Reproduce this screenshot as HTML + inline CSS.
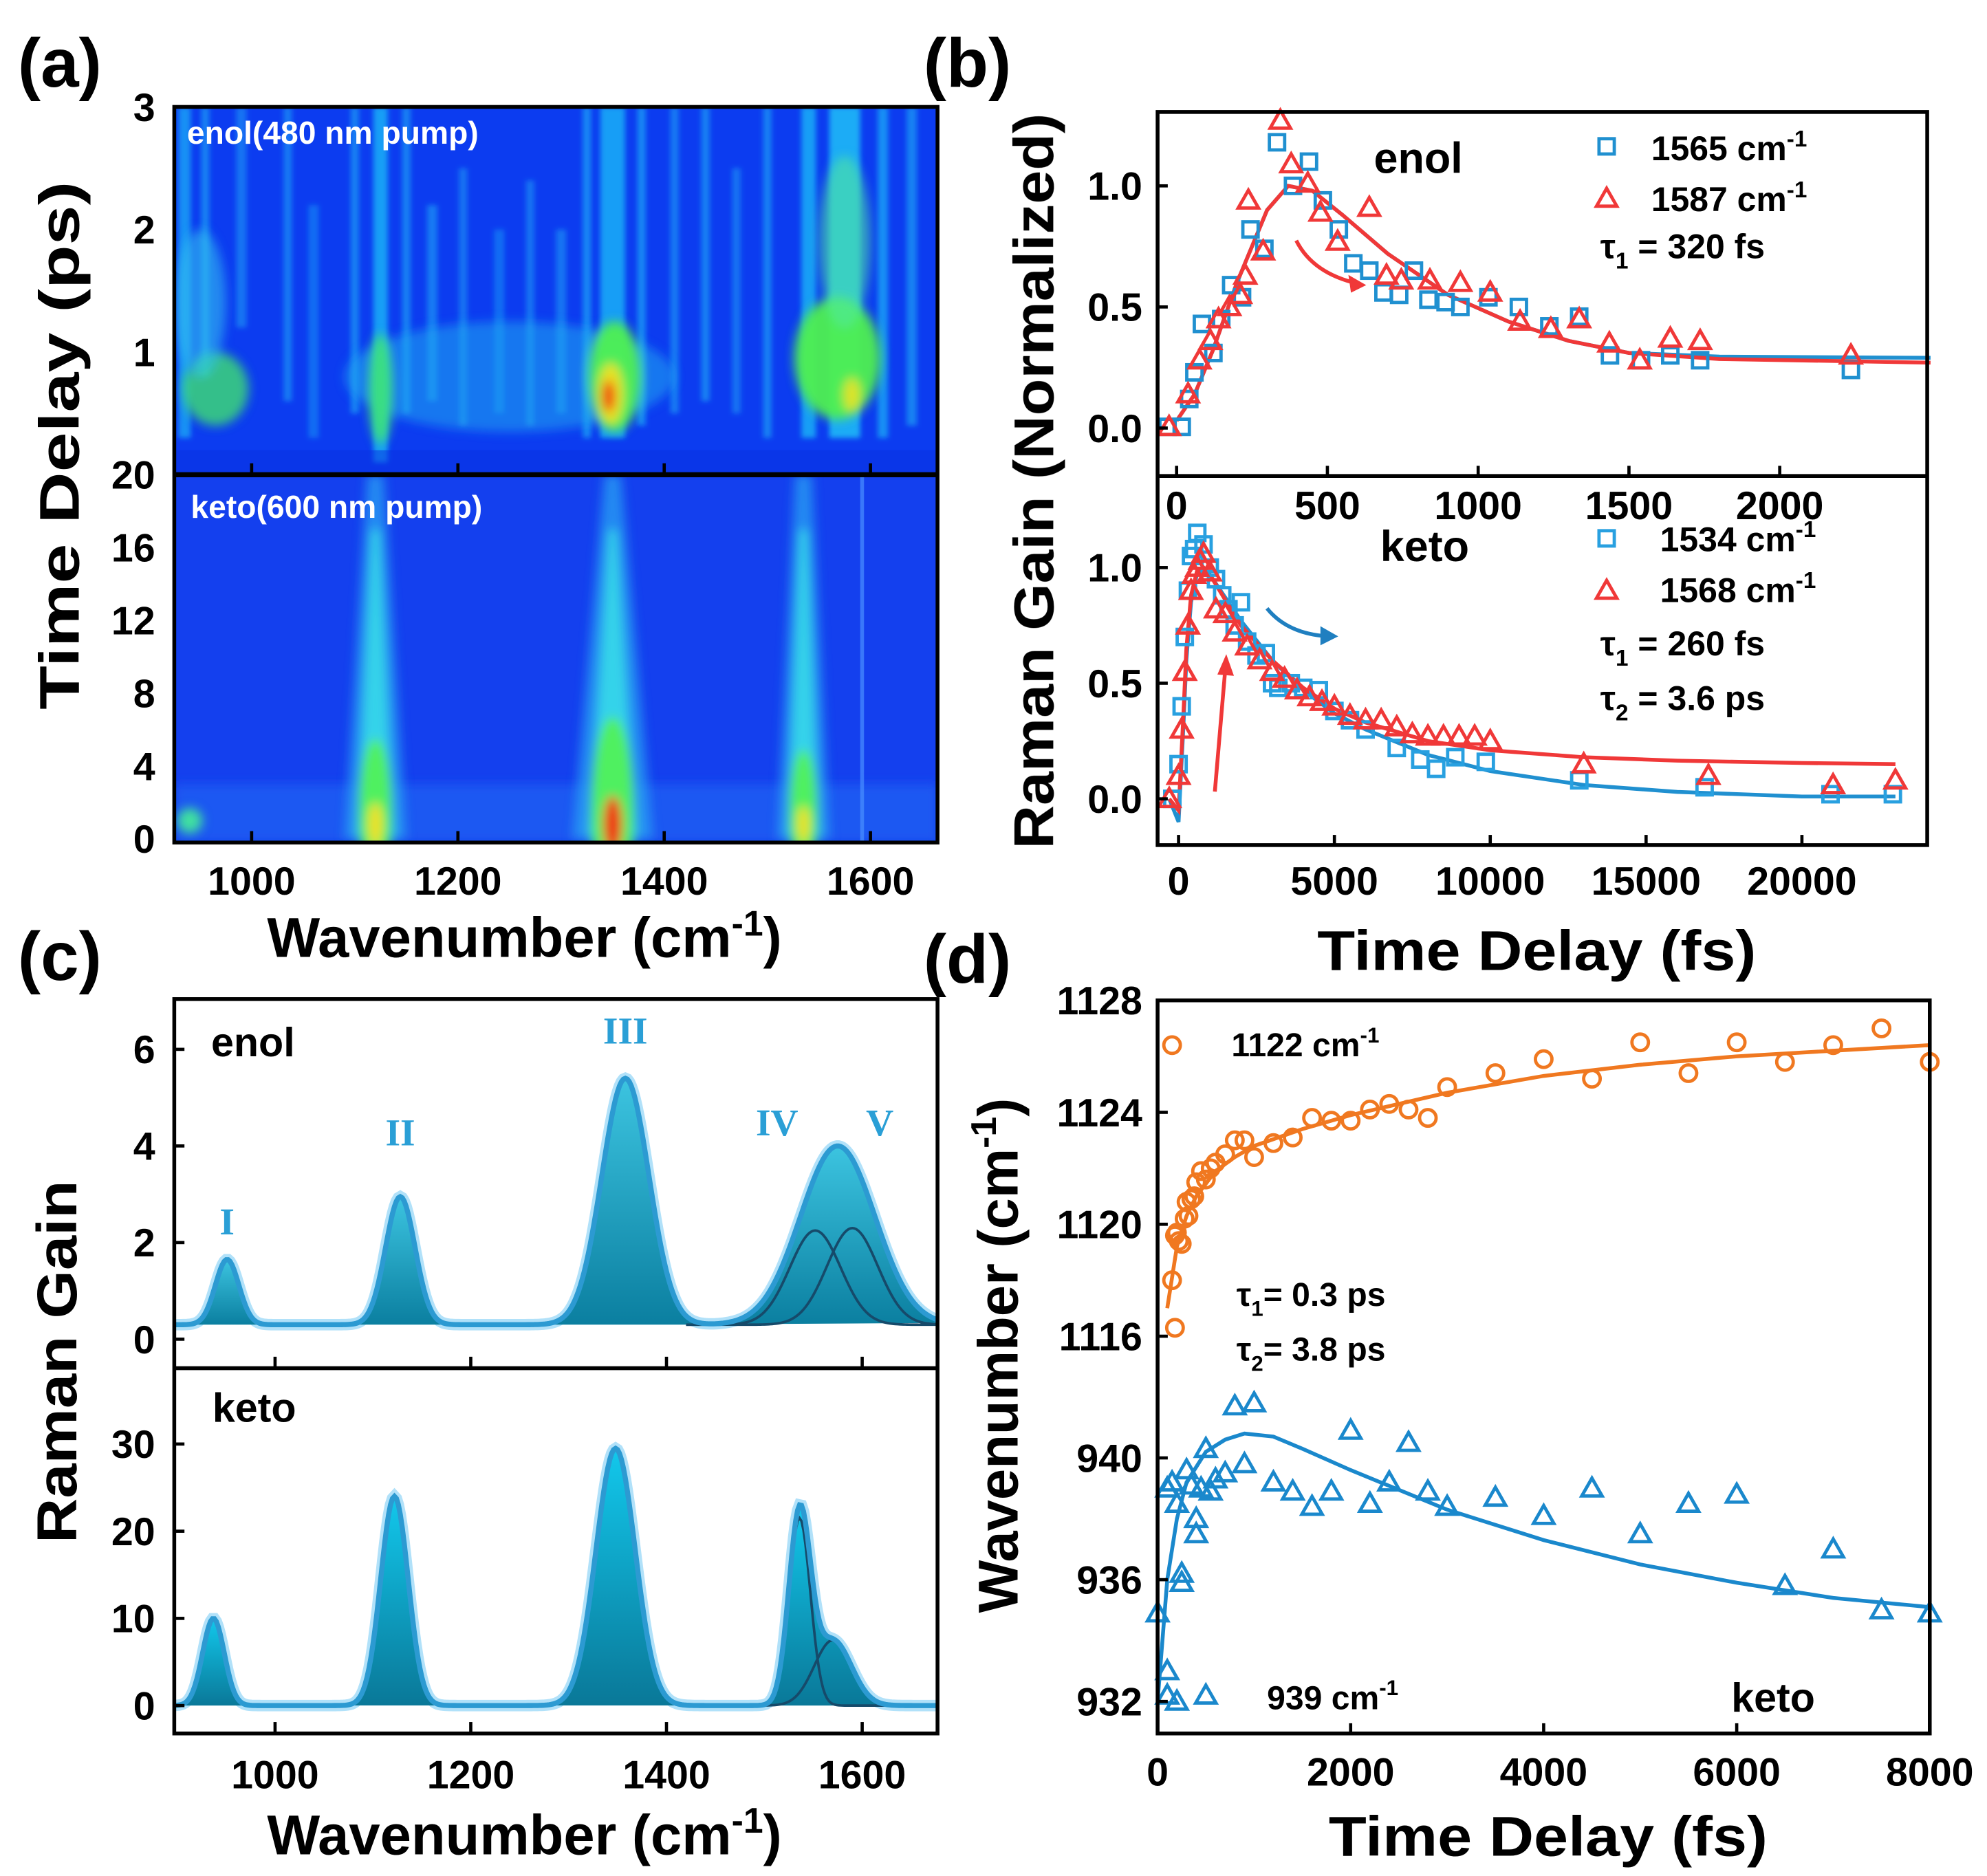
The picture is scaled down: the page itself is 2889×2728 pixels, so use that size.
<!DOCTYPE html>
<html><head><meta charset="utf-8">
<style>
html,body{margin:0;padding:0;background:#fff;}
svg{display:block;}
text{font-family:"Liberation Sans",Arial,sans-serif;font-weight:bold;}
</style></head>
<body>
<svg id="fig" xmlns="http://www.w3.org/2000/svg" width="2889" height="2728" viewBox="0 0 1562 1474" preserveAspectRatio="none">
<defs>
<clipPath id="clipAU"><rect x="137" y="84" width="600" height="289"/></clipPath>
<clipPath id="clipAL"><rect x="137" y="373" width="600" height="289"/></clipPath>
<clipPath id="clipCU"><rect x="137" y="785" width="600" height="290"/></clipPath>
<clipPath id="clipCL"><rect x="137" y="1075" width="600" height="287"/></clipPath>
<filter id="blur4" x="-50%" y="-50%" width="200%" height="200%"><feGaussianBlur stdDeviation="4"/></filter>
<filter id="blur2" x="-50%" y="-50%" width="200%" height="200%"><feGaussianBlur stdDeviation="2"/></filter>
<linearGradient id="tealFill" x1="0" y1="0" x2="0" y2="1"><stop offset="0" stop-color="#3cc4e0"/><stop offset="1" stop-color="#0b7fa0"/></linearGradient>
<linearGradient id="tealFill2" x1="0" y1="0" x2="0" y2="1"><stop offset="0" stop-color="#12c8ec"/><stop offset="1" stop-color="#0a7898"/></linearGradient>
</defs>
<rect x="0" y="0" width="1562" height="1474" fill="#fff"/>
<g id="gA"></g>
<g id="gB"></g>
<g id="gC"></g>
<g id="gD"></g>

<text x="14" y="68" font-size="54">(a)</text>
<text x="726" y="68" font-size="54">(b)</text>
<text x="14" y="770" font-size="54">(c)</text>
<text x="726" y="772" font-size="54">(d)</text>

<text x="147" y="113" font-size="25" fill="#fff">enol(480 nm pump)</text>
<text x="150" y="407" font-size="25" fill="#fff">keto(600 nm pump)</text>
<text transform="translate(62,350) rotate(-90)" text-anchor="middle" font-size="44" textLength="415" lengthAdjust="spacingAndGlyphs">Time Delay (ps)</text>
<text x="210" y="752" font-size="44">Wavenumber (cm<tspan dy="-17" font-size="28">-1</tspan><tspan dy="17">)</tspan></text>

<text transform="translate(828,378) rotate(-90)" text-anchor="middle" font-size="44" textLength="578" lengthAdjust="spacingAndGlyphs">Raman Gain (Normalized)</text>
<text x="1208" y="762" text-anchor="middle" font-size="44" textLength="345" lengthAdjust="spacingAndGlyphs">Time Delay (fs)</text>
<text x="1080" y="136" font-size="34">enol</text>
<text x="1298" y="126" font-size="27">1565 cm<tspan dy="-11" font-size="18">-1</tspan></text>
<text x="1298" y="166" font-size="27">1587 cm<tspan dy="-11" font-size="18">-1</tspan></text>
<text x="1258" y="203" font-size="27">τ<tspan dy="8" font-size="18">1</tspan><tspan dy="-8"> = 320 fs</tspan></text>
<text x="1085" y="441" font-size="34">keto</text>
<text x="1305" y="433" font-size="27">1534 cm<tspan dy="-11" font-size="18">-1</tspan></text>
<text x="1305" y="473" font-size="27">1568 cm<tspan dy="-11" font-size="18">-1</tspan></text>
<text x="1258" y="515" font-size="27">τ<tspan dy="8" font-size="18">1</tspan><tspan dy="-8"> = 260 fs</tspan></text>
<text x="1258" y="558" font-size="27">τ<tspan dy="8" font-size="18">2</tspan><tspan dy="-8"> = 3.6 ps</tspan></text>

<text transform="translate(60,1070) rotate(-90)" text-anchor="middle" font-size="44" textLength="285" lengthAdjust="spacingAndGlyphs">Raman Gain</text>
<text x="210" y="1457" font-size="44">Wavenumber (cm<tspan dy="-17" font-size="28">-1</tspan><tspan dy="17">)</tspan></text>
<text x="166" y="830" font-size="32">enol</text>
<text x="167" y="1117" font-size="32">keto</text>

<text transform="translate(800,1065) rotate(-90)" text-anchor="middle" font-size="44">Wavenumber (cm<tspan dy="-17" font-size="28">-1</tspan><tspan dy="17">)</tspan></text>
<text x="1217" y="1458" text-anchor="middle" font-size="44" textLength="345" lengthAdjust="spacingAndGlyphs">Time Delay (fs)</text>
<text x="968" y="830" font-size="26">1122 cm<tspan dy="-11" font-size="17">-1</tspan></text>
<text x="972" y="1026" font-size="26">τ<tspan dy="8" font-size="17">1</tspan><tspan dy="-8">= 0.3 ps</tspan></text>
<text x="972" y="1069" font-size="26">τ<tspan dy="8" font-size="17">2</tspan><tspan dy="-8">= 3.8 ps</tspan></text>
<text x="996" y="1343" font-size="26">939 cm<tspan dy="-11" font-size="17">-1</tspan></text>
<text x="1361" y="1345" font-size="32">keto</text>
</svg>

<script>
const NS='http://www.w3.org/2000/svg';
// ---------- DATA ----------
const bEnolBlueT=[-30,17,42,59,84,122,148,181,217,245,291,333,386,439,485,538,586,639,686,738,787,835,892,941,1034,1135,1236,1335,1437,1540,1637,1736,2236];
const bEnolBlueV=[0.005,0.005,0.12,0.23,0.43,0.31,0.45,0.59,0.54,0.82,0.74,1.18,1.0,1.10,0.94,0.82,0.68,0.65,0.56,0.55,0.65,0.53,0.52,0.50,0.54,0.50,0.42,0.46,0.30,0.28,0.30,0.28,0.24];
const bEnolRedT=[-25,38,76,112,139,175,211,228,238,287,344,380,435,477,534,639,696,745,840,941,1040,1139,1241,1335,1435,1536,1637,1736,2236];
const bEnolRedV=[0.005,0.14,0.28,0.36,0.45,0.50,0.55,0.63,0.94,0.73,1.27,1.09,1.01,0.89,0.77,0.91,0.63,0.61,0.61,0.60,0.56,0.44,0.41,0.45,0.35,0.28,0.37,0.36,0.30];
const bEnolFitT=[0,60,120,200,300,370,450,550,700,900,1100,1300,1500,1800,2500];
const bEnolFitBlue=[0.03,0.14,0.32,0.6,0.9,1.0,0.98,0.88,0.72,0.55,0.44,0.36,0.31,0.295,0.29];
const bEnolFitRed=[0.03,0.14,0.32,0.6,0.9,1.0,0.98,0.88,0.72,0.55,0.44,0.36,0.31,0.285,0.27];
const bKetoBlueT=[-200,0,100,200,300,400,500,600,800,1000,1200,1400,1600,1800,2000,2200,2500,2800,3000,3200,3600,4000,4500,5000,5500,6000,7000,7755,8265,8878,9857,12857,16878,20918,22918];
const bKetoBlueV=[0.0,0.15,0.4,0.7,0.9,1.05,1.08,1.15,1.1,1.0,0.95,0.88,0.82,0.75,0.85,0.68,0.62,0.63,0.5,0.48,0.5,0.48,0.47,0.38,0.34,0.3,0.22,0.17,0.13,0.18,0.16,0.08,0.05,0.02,0.02];
const bKetoRedT=[-300,0,100,200,300,400,500,600,700,800,1000,1200,1500,1800,2200,2600,3000,3400,3800,4200,4600,5000,5500,6000,6500,7000,7500,8000,8500,9000,9500,10000,13000,17000,21000,23000];
const bKetoRedV=[0.0,0.1,0.3,0.55,0.75,0.9,0.97,1.0,1.03,1.06,0.98,0.82,0.8,0.72,0.66,0.6,0.55,0.52,0.47,0.44,0.42,0.4,0.36,0.34,0.34,0.31,0.28,0.27,0.27,0.27,0.27,0.25,0.15,0.1,0.06,0.08];
const bKetoFitT=[-300,0,150,250,400,600,800,1000,1500,2000,3000,4000,5000,6000,8000,10000,13000,16000,20000,23000];
const bKetoFitBlue=[0,-0.1,0.3,0.6,0.85,0.98,1.0,0.97,0.87,0.77,0.6,0.47,0.37,0.3,0.19,0.12,0.06,0.03,0.01,0.01];
const bKetoFitRed=[0,-0.05,0.35,0.65,0.88,0.99,1.0,0.97,0.86,0.75,0.6,0.48,0.39,0.33,0.25,0.21,0.18,0.165,0.155,0.15];
const cEnolCenters=[951,1128,1358];
const cEnolAmps=[1.35,2.65,5.1];
const cEnolWidths=[12,15,24];
const cEnolSubCenters=[1552,1590];
const cEnolSubAmps=[1.95,2.0];
const cEnolSubWidths=[26,26];
const cEnolEnv=[1575,3.7,38];
const cEnolBase=0.3;
const cKetoCenters=[937,1122,1348];
const cKetoAmps=[10,24,29.5];
const cKetoWidths=[11,14,20];
const cKetoSubCenters=[1536,1570];
const cKetoSubAmps=[21.5,7.5];
const cKetoSubWidths=[11,19];
const cKetoEnv=[1537,23,13];
const dOrangeT=[150,150,180,180,200,220,250,280,300,320,350,380,400,450,500,550,600,700,800,900,1000,1200,1400,1600,1800,2000,2200,2400,2600,2800,3000,3500,4000,4500,5000,5500,6000,6500,7000,7500,8000];
const dOrangeV=[1126.4,1118,1116.3,1119.6,1119.7,1119.4,1119.3,1120.2,1120.8,1120.3,1120.9,1121.0,1121.5,1121.9,1121.6,1122.0,1122.2,1122.5,1123.0,1123.0,1122.4,1122.9,1123.1,1123.8,1123.7,1123.7,1124.1,1124.3,1124.1,1123.8,1124.9,1125.4,1125.9,1125.2,1126.5,1125.4,1126.5,1125.8,1126.4,1127.0,1125.8];
const dOrangeFitT=[100,200,300,400,600,800,1000,1500,2000,3000,4000,5000,6000,7000,8000];
const dOrangeFitV=[1117,1119.2,1120.3,1121.0,1121.9,1122.4,1122.8,1123.4,1123.9,1124.7,1125.3,1125.7,1126.0,1126.2,1126.4];
const dBlueT=[0,100,100,200,500,100,150,200,250,250,300,350,400,400,450,500,550,600,700,800,900,1000,1200,1400,1600,1800,2000,2200,2400,2600,2800,3000,3500,4000,4500,5000,5500,6000,6500,7000,7500,8000];
const dBlueV=[934.9,933.0,932.2,932.0,932.2,939.0,939.2,938.5,936.2,935.9,939.6,939.1,937.5,938.0,939.0,940.3,938.9,939.3,939.5,941.7,939.8,941.8,939.2,938.9,938.4,938.9,940.9,938.5,939.2,940.5,938.9,938.4,938.7,938.1,939.0,937.5,938.5,938.8,935.8,937.0,935.0,934.9];
const dBlueFitT=[0,50,100,200,300,500,700,900,1200,1500,2000,3000,4000,5000,6000,7000,8000];
const dBlueFitV=[932,934,936,938,939.2,940.2,940.6,940.8,940.7,940.3,939.6,938.3,937.3,936.5,935.9,935.4,935.1];
const aXTicks=[1000,1200,1400,1600];
const aUpperYTicks=[3,2,1];
const aLowerYTicks=[20,16,12,8,4,0];
const bUpperXTicks=[0,500,1000,1500,2000];
const bLowerXTicks=[0,5000,10000,15000,20000];
const bYTicks=[0.0,0.5,1.0];
const cXTicks=[1000,1200,1400,1600];
const cUpperYTicks=[0,2,4,6];
const cLowerYTicks=[0,10,20,30];
const dXTicks=[0,2000,4000,6000,8000];
const dUpperYTicks=[1128,1124,1120,1116];
const dLowerYTicks=[940,936,932];
// heatmap streaks: [wavenumber, width, tBottom, tTop, opacity]
const hmEnolStreaks=[[935,12,0.3,3,0.6],[955,8,0.8,3,0.5],[990,10,1.2,3,0.4],[1035,8,0.6,3,0.45],[1060,10,0.3,2.2,0.35],[1100,8,0.5,3,0.5],[1125,14,0.1,3,0.7],[1150,8,0.5,3,0.5],[1175,10,0.6,2.2,0.45],[1205,8,0.4,2.5,0.4],[1240,10,0.5,2.0,0.35],[1270,8,0.4,2.4,0.4],[1300,10,0.5,2.0,0.4],[1325,8,0.3,3,0.55],[1350,24,0.3,3,0.7],[1378,8,0.4,3,0.55],[1410,8,0.5,3,0.45],[1440,8,0.6,3,0.5],[1470,8,0.5,2.5,0.4],[1500,8,0.3,3,0.5],[1540,14,0.3,3,0.7],[1575,30,0.3,3,0.8],[1612,10,0.3,3,0.6],[1640,10,0.4,3,0.5]];
const hmEnolBlobs=[
 [1250,0.8,160,0.45,'#22a8f0',0.55],
 [1125,0.7,12,0.45,'#40e870',0.85],
 [1352,0.8,26,0.45,'#50f050',0.95],[1348,0.66,12,0.25,'#f0e020',0.95],[1346,0.64,6,0.13,'#f02810',1],
 [1568,0.95,42,0.5,'#50f050',0.95],[1575,1.9,25,0.7,'#50e8a0',0.6],[1582,0.65,8,0.14,'#f0e020',0.9],
 [965,0.7,32,0.3,'#40e070',0.8],[950,1.4,25,0.6,'#30c0f0',0.6]];
const hmKetoBands=[[1120,1.0],[1350,1.3],[1535,0.85]];
// ---------- HELPERS ----------
function lin(d0,d1,r0,r1){return v=>r0+(v-d0)*(r1-r0)/(d1-d0);}
function el(tag,attrs,parent){const e=document.createElementNS(NS,tag);for(const k in attrs)e.setAttribute(k,attrs[k]);parent.appendChild(e);return e;}
function pathFrom(xs,ys,sx,sy){return xs.map((x,i)=>(i?'L':'M')+sx(x).toFixed(2)+','+sy(ys[i]).toFixed(2)).join('');}
function sq(g,cx,cy,color){return el('rect',{x:cx-6,y:cy-6,width:12,height:12,fill:'none',stroke:color,'stroke-width':2.6},g);}
function tri(g,cx,cy,color){return el('path',{d:`M${cx},${cy-8}L${cx+8},${cy+6}L${cx-8},${cy+6}Z`,fill:'none',stroke:color,'stroke-width':2.6},g);}
function circ(g,cx,cy,color){return el('circle',{cx:cx,cy:cy,r:6.5,fill:'none',stroke:color,'stroke-width':2.6},g);}
function gauss(x,c,a,w){return a*Math.exp(-((x-c)*(x-c))/(2*w*w));}

// ---------- PANEL A ----------
const gA=document.getElementById('gA');
const axX=lin(925,1665,137,737);
const auY=lin(0,3,373,84);
const alY=lin(-0.2,20,662,373);
{
 const hu=el('g',{'clip-path':'url(#clipAU)'},gA);
 
 
 const bg=el('rect',{x:137,y:84,width:600,height:289,fill:'#0c3cf0'},hu);
 
 
 const sg=el('g',{filter:'url(#blur2)'},hu);
 for(const s of hmEnolStreaks){
  const r=el('rect',{x:axX(s[0]-s[1]/2),y:auY(s[3]),width:axX(s[0]+s[1]/2)-axX(s[0]-s[1]/2),height:auY(s[2])-auY(s[3]),fill:'#20c8f8',opacity:s[4]},sg);
  
  
 }
 const bl=el('g',{filter:'url(#blur4)'},hu);
 for(const b of hmEnolBlobs){
  const e=el('ellipse',{cx:axX(b[0]),cy:auY(b[1]),rx:Math.abs(axX(b[0]+b[2])-axX(b[0])),ry:Math.abs(auY(b[1]+b[3])-auY(b[1])),fill:b[4],opacity:b[5]},bl);
  
  
 }
 const hl=el('rect',{x:137,y:auY(0.2),width:600,height:auY(0)-auY(0.2),fill:'#0830e0',opacity:0.5},hu);
 
 

 const hk=el('g',{'clip-path':'url(#clipAL)'},gA);
 
 
 const bg2=el('rect',{x:137,y:373,width:600,height:289,fill:'#1440ee'},hk);
 
 
 const low=el('rect',{x:137,y:alY(3),width:600,height:alY(-0.2)-alY(3),fill:'#1e58f2',filter:'url(#blur4)'},hk);
 
 
 const kb=el('g',{filter:'url(#blur4)'},hk);
 for(const b of hmKetoBands){
  const c=b[0],s=b[1];
  const p1=el('path',{d:`M${axX(c-8)},${alY(20)}L${axX(c+8)},${alY(20)}L${axX(c+30*s)},${alY(0)}L${axX(c-30*s)},${alY(0)}Z`,fill:'#2aa8f4',opacity:0.7},kb);
  
  
  const p2=el('path',{d:`M${axX(c-4)},${alY(17)}L${axX(c+4)},${alY(17)}L${axX(c+18*s)},${alY(0)}L${axX(c-18*s)},${alY(0)}Z`,fill:'#38e0e8',opacity:0.85},kb);
  
  
  const e1=el('ellipse',{cx:axX(c),cy:alY(1.5),rx:axX(c+16*s)-axX(c),ry:alY(0)-alY(4*s),fill:'#50f060'},kb);
  
  
  const e2=el('ellipse',{cx:axX(c),cy:alY(0.8),rx:axX(c+7*s)-axX(c),ry:alY(0)-alY(1.2*s),fill:s>1.1?'#f03010':'#f0e020'},kb);
  
  
 }
 const e3=el('ellipse',{cx:axX(940),cy:alY(1),rx:10,ry:10,fill:'#40e0a0'},kb);
 
 
 const vline=el('rect',{x:axX(1590),y:373,width:3,height:289,fill:'#4a90ff',opacity:0.7},hk);
 
 

 for(const t of aXTicks){
  for(const yb of [373,662]){
   const tk=el('line',{x1:axX(t),x2:axX(t),y1:yb,y2:yb-9,stroke:'#000','stroke-width':2.5},gA);
   
   
  }
  const lb=el('text',{x:axX(t),y:703,'text-anchor':'middle','font-size':31},gA);
  lb.textContent=t;
  
  
 }
 for(const t of aUpperYTicks){
  const lb=el('text',{x:122,y:auY(t)+11,'text-anchor':'end','font-size':31},gA);
  lb.textContent=t;
  
  
 }
 for(const t of aLowerYTicks){
  const lb=el('text',{x:122,y:alY(t)+11,'text-anchor':'end','font-size':31},gA);
  lb.textContent=t;
  
  
 }
 const f=el('rect',{x:137,y:84,width:600,height:578,fill:'none',stroke:'#000','stroke-width':3},gA);
 
 
 const dv=el('line',{x1:137,x2:737,y1:373,y2:373,stroke:'#000','stroke-width':4},gA);
 
 
}

// ---------- PANEL B ----------
const gB=document.getElementById('gB');
const buX=lin(-63,2489,910,1515);
const buY=lin(-0.198,1.305,374,88);
const blX=lin(-673,24020,910,1515);
const blY=lin(-0.2,1.396,664,374);
const BLUE='#2090d0',RED='#f03838';
{
 const fb=el('path',{d:pathFrom(bEnolFitT,bEnolFitBlue,buX,buY),fill:'none',stroke:BLUE,'stroke-width':3},gB);
 
 
 const fr=el('path',{d:pathFrom(bEnolFitT,bEnolFitRed,buX,buY),fill:'none',stroke:RED,'stroke-width':3},gB);
 
 
 bEnolBlueT.forEach((t,i)=>{
  const m=sq(gB,buX(t),buY(bEnolBlueV[i]),BLUE);
  
  
 });
 bEnolRedT.forEach((t,i)=>{
  const m=tri(gB,buX(t),buY(bEnolRedV[i]),RED);
  
  
 });
 const kfb=el('path',{d:pathFrom(bKetoFitT,bKetoFitBlue,blX,blY),fill:'none',stroke:BLUE,'stroke-width':3},gB);
 
 
 const kfr=el('path',{d:pathFrom(bKetoFitT,bKetoFitRed,blX,blY),fill:'none',stroke:RED,'stroke-width':3},gB);
 
 
 bKetoBlueT.forEach((t,i)=>{
  const m=sq(gB,blX(t),blY(bKetoBlueV[i]),'#28a0e0');
  
  
 });
 bKetoRedT.forEach((t,i)=>{
  const m=tri(gB,blX(t),blY(bKetoRedV[i]),RED);
  
  
 });
 const l1=sq(gB,1263,115,BLUE);
 
 
 const l2=tri(gB,1263,156,RED);
 
 
 const l3=sq(gB,1263,423,'#28a0e0');
 
 
 const l4=tri(gB,1263,464,RED);
 
 
 const a1=el('path',{d:'M1019,189 Q1032,215 1068,223',fill:'none',stroke:RED,'stroke-width':3},gB);
 
 
 const a1h=el('path',{d:'M1074,224 L1060,216 L1062,230 Z',fill:RED},gB);
 
 
 const a2=el('path',{d:'M996,478 Q1012,498 1044,500',fill:'none',stroke:'#1f7fc0','stroke-width':3},gB);
 
 
 const a2h=el('path',{d:'M1052,500 L1038,492 L1038,507 Z',fill:'#1f7fc0'},gB);
 
 
 const a3=el('line',{x1:955,y1:622,x2:963,y2:528,stroke:RED,'stroke-width':3},gB);
 
 
 const a3h=el('path',{d:'M964,514 L957,530 L970,531 Z',fill:RED},gB);
 
 
 for(const t of bUpperXTicks){
  const tk=el('line',{x1:buX(t),x2:buX(t),y1:374,y2:366,stroke:'#000','stroke-width':2.5},gB);
  
  
  const lb=el('text',{x:buX(t),y:408,'text-anchor':'middle','font-size':31},gB);
  lb.textContent=t;
  
  
 }
 for(const t of bLowerXTicks){
  const tk=el('line',{x1:blX(t),x2:blX(t),y1:664,y2:656,stroke:'#000','stroke-width':2.5},gB);
  
  
  const lb=el('text',{x:blX(t),y:703,'text-anchor':'middle','font-size':31},gB);
  lb.textContent=t;
  
  
 }
 for(const t of bYTicks){
  const tk=el('line',{x1:910,x2:918,y1:buY(t),y2:buY(t),stroke:'#000','stroke-width':2.5},gB);
  
  
  const lb=el('text',{x:898,y:buY(t)+11,'text-anchor':'end','font-size':31},gB);
  lb.textContent=t.toFixed(1);
  
  
  const tk2=el('line',{x1:910,x2:918,y1:blY(t),y2:blY(t),stroke:'#000','stroke-width':2.5},gB);
  
  
  const lb2=el('text',{x:898,y:blY(t)+11,'text-anchor':'end','font-size':31},gB);
  lb2.textContent=t.toFixed(1);
  
  
 }
 const f=el('rect',{x:910,y:88,width:605,height:576,fill:'none',stroke:'#000','stroke-width':3},gB);
 
 
 const dv=el('line',{x1:910,x2:1515,y1:374,y2:374,stroke:'#000','stroke-width':3},gB);
 
 
}

// ---------- PANEL C ----------
const gC=document.getElementById('gC');
const cX=lin(897,1677,137,737);
const cuY=lin(-0.6,7.04,1075,785);
const clY=lin(-3.2,38.7,1362,1075);
function curve(fn,sy,x0,x1){let d='';for(let x=x0;x<=x1;x+=2){d+=(x===x0?'M':'L')+cX(x).toFixed(2)+','+sy(fn(x)).toFixed(2);}return d;}
{
 const specs=[
  {g:'clipCU',sy:cuY,base:cEnolBase,cs:cEnolCenters,as:cEnolAmps,ws:cEnolWidths,sc:cEnolSubCenters,sa:cEnolSubAmps,sw:cEnolSubWidths,env:cEnolEnv,useSubs:false,fill:'url(#tealFill)',nm:'enol'},
  {g:'clipCL',sy:clY,base:0,cs:cKetoCenters,as:cKetoAmps,ws:cKetoWidths,sc:cKetoSubCenters,sa:cKetoSubAmps,sw:cKetoSubWidths,env:cKetoEnv,useSubs:true,fill:'url(#tealFill2)',nm:'keto'}];
 for(const s of specs){
  const g=el('g',{'clip-path':'url(#'+s.g+')'},gC);
  
  
  const envFn=x=>{let v=s.base;if(s.useSubs){s.sc.forEach((c,i)=>v+=gauss(x,c,s.sa[i],s.sw[i]));}else{v+=gauss(x,s.env[0],s.env[1],s.env[2]);}return v;};
  const total=x=>{let v=envFn(x);s.cs.forEach((c,i)=>v+=gauss(x,c,s.as[i],s.ws[i]));return v;};
  const raw=el('path',{d:curve(total,s.sy,880,1690),fill:'none',stroke:'#a8def8','stroke-width':9,opacity:0.9},g);
  
  
  s.cs.forEach((c,i)=>{
   const fn=x=>s.base+gauss(x,c,s.as[i],s.ws[i]);
   const d=curve(fn,s.sy,c-4*s.ws[i],c+4*s.ws[i])+'Z';
   const p=el('path',{d:d,fill:s.fill,stroke:'none'},g);
   
   
  });
  const ep=el('path',{d:curve(envFn,s.sy,1440,1690)+'Z',fill:s.fill},g);
  
  
  s.sc.forEach((c,i)=>{
   const fn=x=>s.base+gauss(x,c,s.sa[i],s.sw[i]);
   const p=el('path',{d:curve(fn,s.sy,1420,1690),fill:'none',stroke:'#164a6a','stroke-width':2},g);
   
   
  });
  const fit=el('path',{d:curve(total,s.sy,880,1690),fill:'none',stroke:'#2c9ad2','stroke-width':4},g);
  
  
 }
 const roman=[['I',951,970],['II',1128,900],['III',1358,820],['IV',1513,892],['V',1618,892]];
 for(const r of roman){
  const t=el('text',{x:cX(r[1]),y:r[2],'text-anchor':'middle','font-size':30,fill:'#2a9fd6',style:'font-family:"Liberation Serif",serif'},gC);
  t.textContent=r[0];
  
  
 }
 for(const t of cXTicks){
  for(const yb of [1075,1362]){
   const tk=el('line',{x1:cX(t),x2:cX(t),y1:yb,y2:yb-9,stroke:'#000','stroke-width':2.5},gC);
   
   
  }
  const lb=el('text',{x:cX(t),y:1405,'text-anchor':'middle','font-size':31},gC);
  lb.textContent=t;
  
  
 }
 for(const t of cUpperYTicks){
  const tk=el('line',{x1:137,x2:145,y1:cuY(t),y2:cuY(t),stroke:'#000','stroke-width':2.5},gC);
  
  
  const lb=el('text',{x:122,y:cuY(t)+11,'text-anchor':'end','font-size':31},gC);
  lb.textContent=t;
  
  
 }
 for(const t of cLowerYTicks){
  const tk=el('line',{x1:137,x2:145,y1:clY(t),y2:clY(t),stroke:'#000','stroke-width':2.5},gC);
  
  
  const lb=el('text',{x:122,y:clY(t)+11,'text-anchor':'end','font-size':31},gC);
  lb.textContent=t;
  
  
 }
 const f=el('rect',{x:137,y:785,width:600,height:577,fill:'none',stroke:'#000','stroke-width':3},gC);
 
 
 const dv=el('line',{x1:137,x2:737,y1:1075,y2:1075,stroke:'#000','stroke-width':3},gC);
 
 
}

// ---------- PANEL D ----------
const gD=document.getElementById('gD');
const dX=lin(0,8000,910,1517);
const duY=v=>786+(1128-v)*21.99;
const dlY=v=>1145.5+(940-v)*23.92;
const OR='#f07820',DB='#1a88cc';
{
 const fo=el('path',{d:pathFrom(dOrangeFitT,dOrangeFitV,dX,duY),fill:'none',stroke:OR,'stroke-width':3},gD);
 
 
 const fb=el('path',{d:pathFrom(dBlueFitT,dBlueFitV,dX,dlY),fill:'none',stroke:DB,'stroke-width':3},gD);
 
 
 dOrangeT.forEach((t,i)=>{
  const m=circ(gD,dX(t),duY(dOrangeV[i]),OR);
  
  
 });
 dBlueT.forEach((t,i)=>{
  const m=tri(gD,dX(t),dlY(dBlueV[i]),DB);
  
  
 });
 for(const t of dXTicks){
  const tk=el('line',{x1:dX(t),x2:dX(t),y1:1362,y2:1354,stroke:'#000','stroke-width':2.5},gD);
  
  
  const lb=el('text',{x:dX(t),y:1403,'text-anchor':'middle','font-size':31},gD);
  lb.textContent=t;
  
  
 }
 for(const t of dUpperYTicks){
  const tk=el('line',{x1:910,x2:918,y1:duY(t),y2:duY(t),stroke:'#000','stroke-width':2.5},gD);
  
  
  const lb=el('text',{x:898,y:duY(t)+11,'text-anchor':'end','font-size':31},gD);
  lb.textContent=t;
  
  
 }
 for(const t of dLowerYTicks){
  const tk=el('line',{x1:910,x2:918,y1:dlY(t),y2:dlY(t),stroke:'#000','stroke-width':2.5},gD);
  
  
  const lb=el('text',{x:898,y:dlY(t)+11,'text-anchor':'end','font-size':31},gD);
  lb.textContent=t;
  
  
 }
 const f=el('rect',{x:910,y:786,width:607,height:576,fill:'none',stroke:'#000','stroke-width':3},gD);
 
 
}
</script>
</body></html>
